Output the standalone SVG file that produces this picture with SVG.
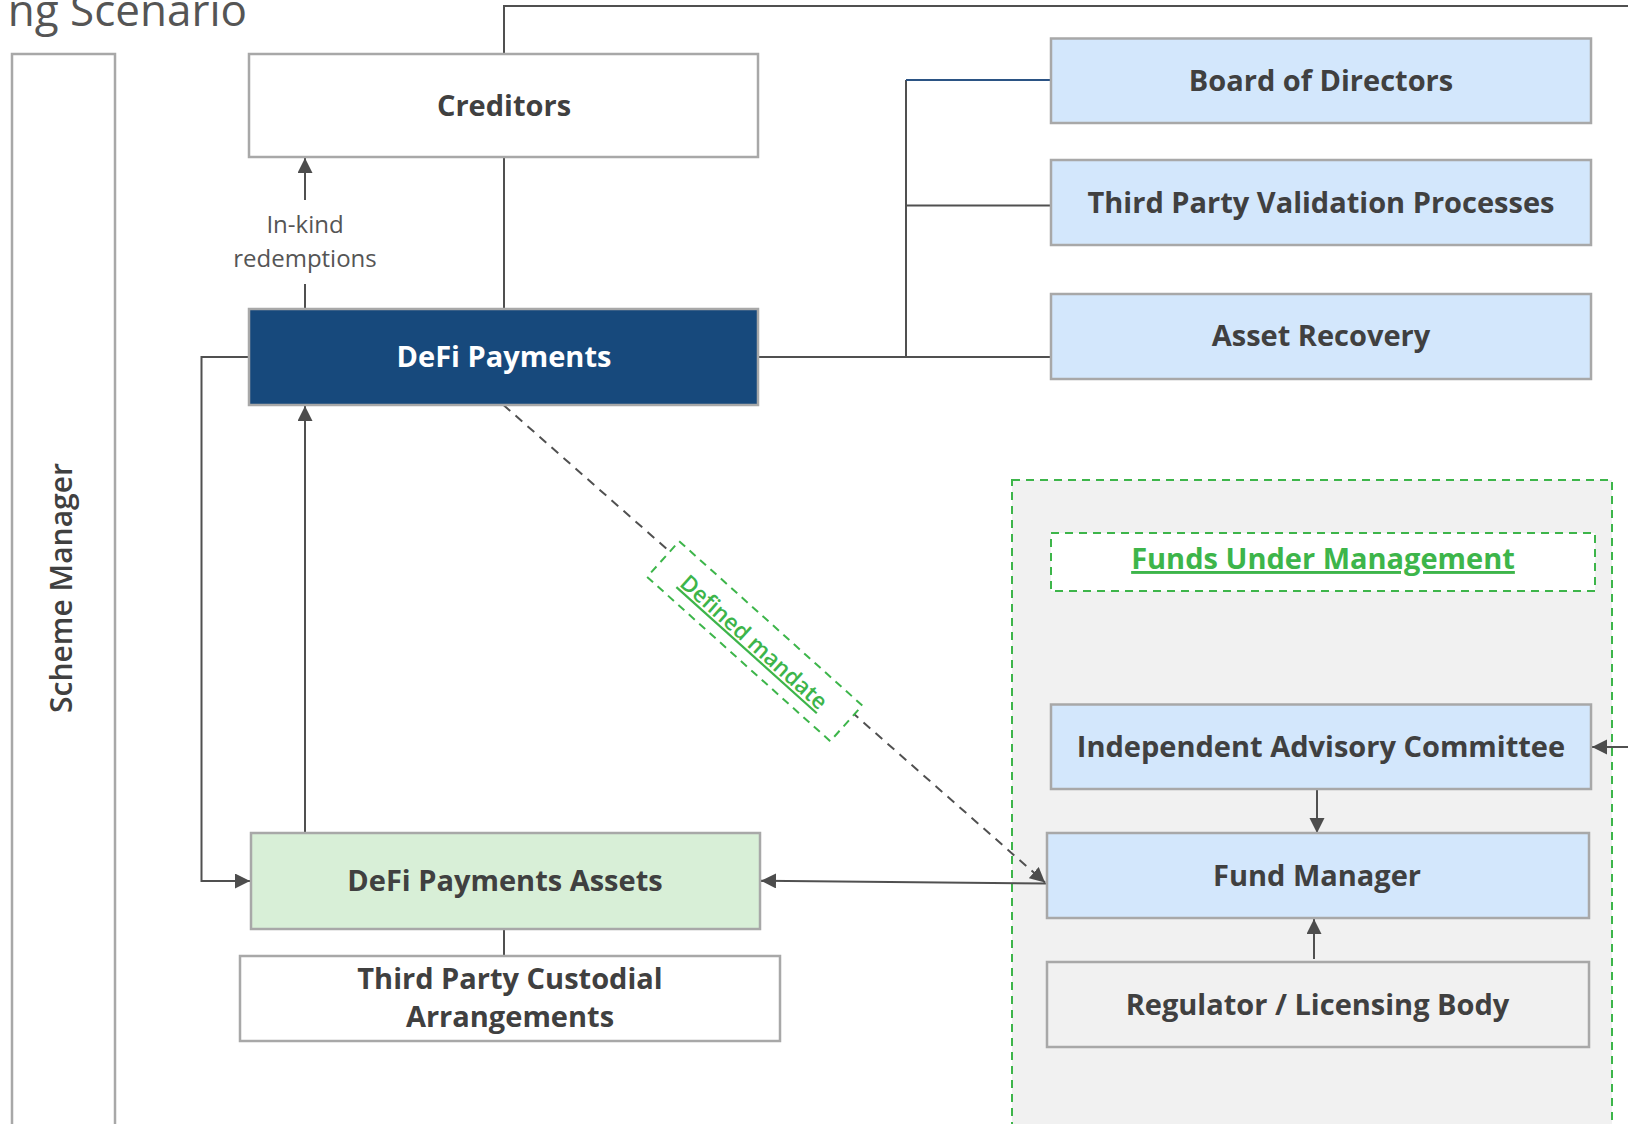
<svg xmlns="http://www.w3.org/2000/svg" width="1628" height="1124" viewBox="0 0 1628 1124">
<style>
.box{stroke:#a8a8a8;stroke-width:2.5}
.white{fill:#ffffff}
.blue{fill:#d3e7fc}
.grey{fill:#f1f1f1}
.green{fill:#d8efd7}
.dark{fill:#17497c}
.lbl{font-family:"Open Sans","Liberation Sans",sans-serif;font-weight:700;font-size:29px;fill:#404040;text-anchor:middle}
.wl{fill:#ffffff}
.gl{fill:#3db54a;text-decoration:underline}
.conn{fill:none;stroke:#505050;stroke-width:2}
.dash{fill:none;stroke:#505050;stroke-width:2;stroke-dasharray:9 7}
.gdash{stroke:#3db54a;stroke-width:2;stroke-dasharray:8 6}
.small{font-family:"Open Sans","Liberation Sans",sans-serif;font-size:24px;fill:#555555;text-anchor:middle}
</style>
<defs>
<marker id="arr" markerUnits="userSpaceOnUse" markerWidth="16" markerHeight="16" refX="15" refY="7.5" orient="auto">
<path d="M0,0 L15,7.5 L0,15 z" fill="#4d4d4d"/>
</marker>
</defs>
<rect width="1628" height="1124" fill="#ffffff"/>
<text x="247" y="26" font-family="Open Sans, Liberation Sans, sans-serif" font-size="44" fill="#555555" text-anchor="end">ng Scenario</text>

<g id="lane-scheme-manager">
<rect x="12" y="54" width="103" height="1090" class="box white"/>
<text transform="translate(72,588) rotate(-90)" font-family="Open Sans, Liberation Sans, sans-serif" font-weight="600" font-size="30" fill="#404040" text-anchor="middle">Scheme Manager</text>
</g>

<g id="container-funds">
<rect x="1012" y="480" width="600" height="670" class="grey gdash"/>
</g>

<g id="connectors">
<polyline class="conn" points="504,54 504,6 1628,6"/>
<line class="conn" x1="504" y1="157" x2="504" y2="309"/>
<line class="conn" x1="305" y1="309" x2="305" y2="284"/>
<line class="conn" x1="305" y1="200" x2="305" y2="158" marker-end="url(#arr)"/>
<line class="conn" x1="758" y1="357" x2="1051" y2="357"/>
<line class="conn" x1="906" y1="357" x2="906" y2="80"/>
<line x1="906" y1="80" x2="1051" y2="80" stroke="#2b5384" stroke-width="2"/>
<line class="conn" x1="906" y1="205.5" x2="1051" y2="205.5"/>
<polyline class="conn" points="249,357 201.5,357 201.5,881 250,881" marker-end="url(#arr)"/>
<line class="conn" x1="305" y1="833" x2="305" y2="406" marker-end="url(#arr)"/>
<line class="conn" x1="504" y1="929" x2="504" y2="956"/>
<line class="conn" x1="1046" y1="883.5" x2="761" y2="880.8" marker-end="url(#arr)" stroke-width="2.5"/>
<line class="dash" x1="503.5" y1="405" x2="1045" y2="882.5" marker-end="url(#arr)"/>
<line class="conn" x1="1628" y1="747" x2="1592" y2="747" marker-end="url(#arr)"/>
<line class="conn" x1="1317" y1="779" x2="1317" y2="833" marker-end="url(#arr)"/>
<line class="conn" x1="1314" y1="959" x2="1314" y2="919" marker-end="url(#arr)"/>
</g>

<g id="label-defined-mandate" transform="translate(754.7,641.2) rotate(41.9)">
<rect x="-123" y="-24" width="246" height="48" fill="#ffffff" class="gdash"/>
<text x="0" y="9" font-family="Open Sans, Liberation Sans, sans-serif" font-weight="600" font-size="22.5" class="gl" text-anchor="middle">Defined mandate</text>
</g>

<g id="label-inkind">
<text class="small" x="305" y="233">In-kind</text>
<text class="small" x="305" y="266.5">redemptions</text>
</g>

<g id="node-creditors">
<rect x="249" y="54" width="509" height="103" class="box white"/>
<text class="lbl" x="504" y="115.5">Creditors</text>
</g>

<g id="node-defi-payments">
<rect x="249" y="309" width="509" height="96" class="box dark"/>
<text class="lbl wl" x="504" y="367">DeFi Payments</text>
</g>

<g id="node-board">
<rect x="1051" y="38.5" width="540" height="84.5" class="box blue"/>
<text class="lbl" x="1321" y="90.5">Board of Directors</text>
</g>

<g id="node-validation">
<rect x="1051" y="160" width="540" height="85" class="box blue"/>
<text class="lbl" x="1321" y="212.5">Third Party Validation Processes</text>
</g>

<g id="node-asset-recovery">
<rect x="1051" y="294" width="540" height="85" class="box blue"/>
<text class="lbl" x="1321" y="345.5">Asset Recovery</text>
</g>

<g id="node-funds-under-management">
<rect x="1051" y="533" width="544" height="58" class="white gdash"/>
<text class="lbl gl" x="1323" y="569">Funds Under Management</text>
</g>

<g id="node-iac">
<rect x="1051" y="704.5" width="540" height="84.5" class="box blue"/>
<text class="lbl" x="1321" y="757">Independent Advisory Committee</text>
</g>

<g id="node-fund-manager">
<rect x="1047" y="833" width="542" height="85" class="box blue"/>
<text class="lbl" x="1317" y="886">Fund Manager</text>
</g>

<g id="node-regulator">
<rect x="1047" y="962" width="542" height="85" class="box grey"/>
<text class="lbl" x="1317.5" y="1015">Regulator / Licensing Body</text>
</g>

<g id="node-defi-assets">
<rect x="251" y="833" width="509" height="96" class="box green"/>
<text class="lbl" x="505" y="890.5">DeFi Payments Assets</text>
</g>

<g id="node-custodial">
<rect x="240" y="956" width="540" height="85" class="box white"/>
<text class="lbl" x="510" y="988.5">Third Party Custodial</text>
<text class="lbl" x="510" y="1027">Arrangements</text>
</g>
</svg>
